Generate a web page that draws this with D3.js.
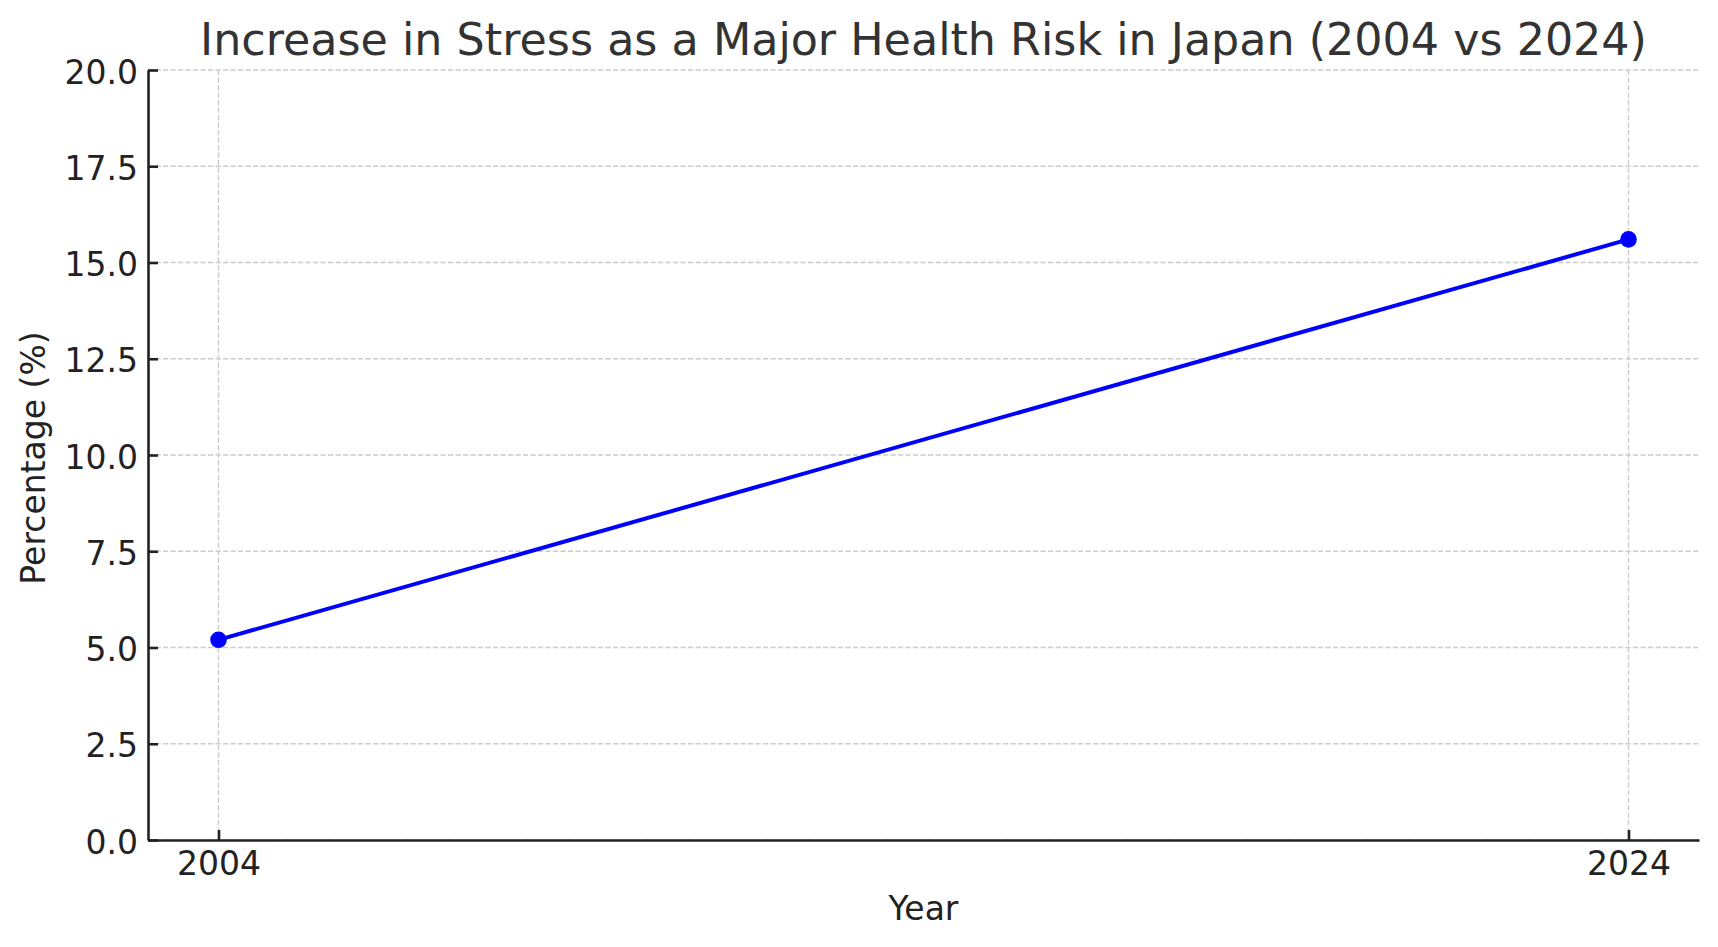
<!DOCTYPE html>
<html>
<head>
<meta charset="utf-8">
<script src="https://cdn.jsdelivr.net/npm/d3@7"></script>
<style>
  html, body { margin: 0; padding: 0; background: #fff; }
  svg { display: block; font-family: "DejaVu Sans", sans-serif; }
</style>
</head>
<body>
<svg id="chart" width="1718" height="947"></svg>
<script>
const years = [2004, 2024];
const values = [5.2, 15.6];
const yTicks = [0, 2.5, 5, 7.5, 10, 12.5, 15, 17.5, 20];
const xTicks = [2004, 2024];
const titleText = "Increase in Stress as a Major Health Risk in Japan (2004 vs 2024)";
const xLabel = "Year";
const yLabel = "Percentage (%)";

(function () {
const svg = d3.select("#chart");
const mLeft = 148, mRight = 1699, mTop = 70, mBottom = 840;

const x = d3.scaleLinear().domain([2003, 2025]).range([mLeft, mRight]);
const y = d3.scaleLinear().domain([0, 20]).range([mBottom, mTop]);

// grid
const grid = svg.append("g");
grid.selectAll(".hg").data(yTicks).join("line")
  .attr("x1", mLeft).attr("x2", mRight)
  .attr("y1", d => y(d)).attr("y2", d => y(d))
  .attr("stroke", "#cccccc").attr("stroke-width", 1.4)
  .attr("stroke-dasharray", "5.2,2.3");
grid.selectAll(".vg").data(xTicks).join("line")
  .attr("x1", d => x(d)).attr("x2", d => x(d))
  .attr("y1", mTop).attr("y2", mBottom)
  .attr("stroke", "#cccccc").attr("stroke-width", 1.4)
  .attr("stroke-dasharray", "5.2,2.3");

// axes
const yAxis = d3.axisLeft(y).tickValues(yTicks).tickFormat(d3.format(".1f"))
  .tickSizeInner(-10).tickSizeOuter(0).tickPadding(10);
const xAxis = d3.axisBottom(x).tickValues(xTicks).tickFormat(d3.format("d"))
  .tickSizeInner(-10).tickSizeOuter(0).tickPadding(12);

const gy = svg.append("g").attr("transform", `translate(${mLeft},0)`).call(yAxis);
const gx = svg.append("g").attr("transform", `translate(0,${mBottom})`).call(xAxis);

[gy, gx].forEach(g => {
  g.select(".domain").attr("stroke", "#222").attr("stroke-width", 2.6);
  g.selectAll(".tick line").attr("stroke", "#222").attr("stroke-width", 2.6);
  g.selectAll(".tick text").attr("fill", "#222")
    .style("font-family", "'DejaVu Sans', sans-serif").style("font-size", "33px");
});
gy.selectAll(".tick text").attr("dy", "0.4em");

// line
const line = d3.line().x((d, i) => x(years[i])).y(d => y(d));
svg.append("path").datum(values)
  .attr("d", line)
  .attr("fill", "none").attr("stroke", "#0000ff").attr("stroke-width", 4);

svg.selectAll(".pt").data(values).join("circle")
  .attr("cx", (d, i) => x(years[i])).attr("cy", d => y(d))
  .attr("r", 8.3).attr("fill", "#0000ff");

// title
svg.append("text")
  .attr("x", (mLeft + mRight) / 2).attr("y", 55)
  .attr("text-anchor", "middle").attr("fill", "#333")
  .style("font-size", "44.4px")
  .text(titleText);

// axis labels
svg.append("text")
  .attr("x", (mLeft + mRight) / 2).attr("y", 920)
  .attr("text-anchor", "middle").attr("fill", "#222")
  .style("font-size", "33px")
  .text(xLabel);

svg.append("text")
  .attr("transform", `translate(45,${(mTop + mBottom) / 2 + 3}) rotate(-90)`)
  .attr("text-anchor", "middle").attr("fill", "#222")
  .style("font-size", "33px")
  .text(yLabel);
})();
</script>
</body>
</html>
